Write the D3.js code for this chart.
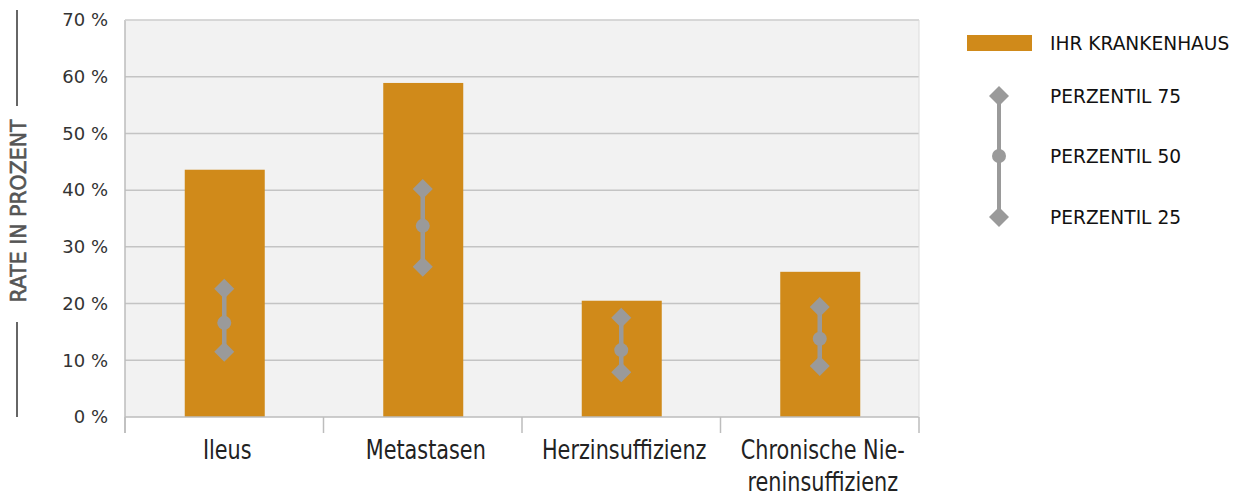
<!DOCTYPE html>
<html><head><meta charset="utf-8">
<script src="https://cdn.jsdelivr.net/npm/d3@7/dist/d3.min.js"></script>
<style>
body{margin:0;background:#fff;}
svg{display:block;}
</style></head>
<body>
<svg id="chart" width="1237" height="499"></svg>
<script>
const categories = [["Ileus"], ["Metastasen"], ["Herzinsuffizienz"], ["Chronische Nie-", "reninsuffizienz"]];
const hospitalRate = [43.6, 58.9, 20.5, 25.6];
const p75 = [22.6, 40.2, 17.5, 19.4];
const p50 = [16.6, 33.7, 11.8, 13.8];
const p25 = [11.5, 26.5, 7.9, 9.0];
const yTicks = [0, 10, 20, 30, 40, 50, 60, 70];
const legendLabels = ["IHR KRANKENHAUS", "PERZENTIL 75", "PERZENTIL 50", "PERZENTIL 25"];

(function () {
const svg = d3.select("#chart");
const pLeft = 125, pRight = 919, pTop = 20, pBottom = 417;
const barColor = "#D08A1A", pColor = "#9a9a9a";

const x = d3.scaleBand().domain(d3.range(categories.length)).range([pLeft, pRight]).paddingInner(0).paddingOuter(0);
const y = d3.scaleLinear().domain([0, 70]).range([pBottom, pTop]);

svg.append("rect").attr("x", pLeft).attr("y", pTop).attr("width", pRight - pLeft).attr("height", pBottom - pTop).attr("fill", "#f2f2f2");

svg.append("g").selectAll("line").data(yTicks.filter(d => d > 0)).join("line")
  .attr("x1", pLeft).attr("x2", pRight).attr("y1", d => y(d)).attr("y2", d => y(d))
  .attr("stroke", "#c4c4c4").attr("stroke-width", 1.5);

svg.append("g").selectAll("text").data(yTicks).join("text")
  .attr("x", 108).attr("y", d => y(d)).attr("dy", "0.35em").attr("text-anchor", "end")
  .attr("font-family", "DejaVu Sans").attr("font-size", 18).attr("fill", "#333")
  .text(d => d + " %");

const bw = 80;
svg.append("g").selectAll("rect").data(hospitalRate).join("rect")
  .attr("x", (d, i) => x(i) + x.bandwidth() / 2 - bw / 2 + 0.5).attr("width", bw)
  .attr("y", d => y(d)).attr("height", d => pBottom - y(d)).attr("fill", barColor);

svg.append("line").attr("x1", pLeft).attr("x2", pLeft).attr("y1", pTop).attr("y2", 433).attr("stroke", "#bdbdbd").attr("stroke-width", 1.5);
svg.append("line").attr("x1", pLeft).attr("x2", pRight).attr("y1", pBottom).attr("y2", pBottom).attr("stroke", "#bdbdbd").attr("stroke-width", 1.5);
svg.append("line").attr("x1", pRight).attr("x2", pRight).attr("y1", pTop).attr("y2", pBottom).attr("stroke", "#dcdcdc").attr("stroke-width", 1);
svg.append("line").attr("x1", pLeft).attr("x2", pRight).attr("y1", pTop).attr("y2", pTop).attr("stroke", "#dcdcdc").attr("stroke-width", 1);
svg.append("g").selectAll("line").data(d3.range(categories.length + 1)).join("line")
  .attr("x1", i => pLeft + i * x.bandwidth()).attr("x2", i => pLeft + i * x.bandwidth())
  .attr("y1", pBottom).attr("y2", 433).attr("stroke", "#bdbdbd").attr("stroke-width", 1.5);

const diamond = d3.symbol().type(d3.symbolSquare).size(200);
const pg = svg.append("g");
categories.forEach((c, i) => {
  const cx = x(i) + x.bandwidth() / 2;
  pg.append("line").attr("x1", cx).attr("x2", cx).attr("y1", y(p75[i])).attr("y2", y(p25[i])).attr("stroke", pColor).attr("stroke-width", 4.5);
  [p75[i], p25[i]].forEach(v => {
    pg.append("path").attr("d", diamond).attr("transform", `translate(${cx},${y(v)}) rotate(45)`).attr("fill", pColor);
  });
  pg.append("circle").attr("cx", cx).attr("cy", y(p50[i])).attr("r", 7).attr("fill", pColor);
});

svg.append("g").selectAll("text").data(categories).join("text")
  .attr("text-anchor", "middle").attr("font-family", "DejaVu Sans")
  .attr("font-size", 26).attr("fill", "#222")
  .attr("transform", (d, i) => `translate(${x(i) + x.bandwidth() / 2 + 3},459) scale(0.8,1)`)
  .each(function (d) {
    d.forEach((line, k) => {
      d3.select(this).append("tspan").attr("x", 0).attr("y", k * 32).text(line);
    });
  });

svg.append("text").attr("transform", "translate(26,211) rotate(-90) scale(0.93,1)").attr("text-anchor", "middle")
  .attr("font-family", "DejaVu Sans")
  .attr("font-size", 22).attr("fill", "#555").attr("stroke", "#555").attr("stroke-width", 0.6).text("RATE IN PROZENT");
svg.append("line").attr("x1", 17).attr("x2", 17).attr("y1", 10).attr("y2", 106).attr("stroke", "#666").attr("stroke-width", 2);
svg.append("line").attr("x1", 17).attr("x2", 17).attr("y1", 322).attr("y2", 417).attr("stroke", "#666").attr("stroke-width", 2);

const lg = svg.append("g");
lg.append("rect").attr("x", 967).attr("y", 35).attr("width", 65).attr("height", 16).attr("fill", barColor);
const legY = [43, 96, 156, 217];
lg.selectAll("text").data(legendLabels).join("text")
  .attr("x", 1050).attr("y", (d, i) => legY[i]).attr("dy", "0.35em")
  .attr("font-family", "DejaVu Sans").attr("font-size", 18.6).attr("fill", "#111").text(d => d);
lg.append("line").attr("x1", 999).attr("x2", 999).attr("y1", legY[1]).attr("y2", legY[3]).attr("stroke", pColor).attr("stroke-width", 4);
[legY[1], legY[3]].forEach(v => lg.append("path").attr("d", diamond).attr("transform", `translate(999,${v}) rotate(45)`).attr("fill", pColor));
lg.append("circle").attr("cx", 999).attr("cy", legY[2]).attr("r", 7).attr("fill", pColor);
})();
</script>
</body></html>
